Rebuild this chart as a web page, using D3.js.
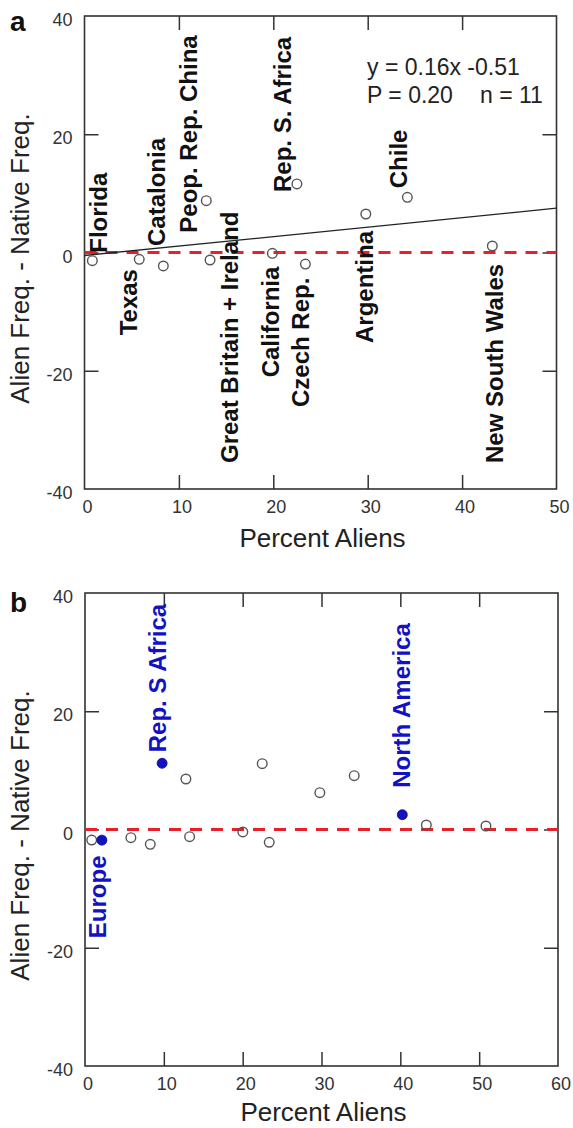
<!DOCTYPE html>
<html>
<head>
<meta charset="utf-8">
<script src="https://cdn.jsdelivr.net/npm/d3@7"></script>
<style>
  html, body { margin: 0; padding: 0; background: #fff; }
  text { font-family: "Liberation Sans", Arial, sans-serif; }
</style>
</head>
<body>
<div id="chart"></div>
<script>
// Panel a: regions
const regionsA = ['Florida', 'Texas', 'Catalonia', 'Peop. Rep. China', 'Great Britain + Ireland',
  'California', 'Rep. S. Africa', 'Czech Rep.', 'Argentina', 'Chile', 'New South Wales'];
const pctAliensA = [0.83, 5.8, 8.35, 12.9, 13.3, 19.9, 22.5, 23.4, 29.8, 34.2, 43.2];
const freqDiffA = [-1.39, -1.15, -2.28, 8.76, -1.27, -0.14, 11.59, -1.95, 6.51, 9.34, 1.1];
const fitSlope = 0.16;
const fitIntercept = -0.51;

// Panel b: regions + continents
const pctAliensB = [0.85, 5.82, 8.28, 12.8, 13.27, 20.02, 22.48, 23.37, 29.79, 34.15, 43.3, 50.86];
const freqDiffB = [-1.78, -1.39, -2.5, 8.54, -1.22, -0.42, 11.13, -2.16, 6.22, 9.1, 0.76, 0.59];
const continents = ['Europe', 'Rep. S Africa', 'North America'];
const pctAliensCont = [2.14, 9.78, 40.25];
const freqDiffCont = [-1.8, 11.2, 2.5];

// ticks
const xTicksA = [0, 10, 20, 30, 40, 50];
const xTicksB = [0, 10, 20, 30, 40, 50, 60];
const yTicks = [-40, -20, 0, 20, 40];

// label placement relative to each point, in pixels (baseline x, text start y)
const labelOffsetA = [[15, -8], [-2, 76], [2, -20], [-9, 32], [28, 203], [7, 124],
  [-6, 8], [4, 143], [7, 129], [0, -9], [11, 217]];
const labelOffsetCont = [[4, 98], [4, -11], [8, -27]];

const W = 573, H = 1128;
const svg = d3.select('#chart').append('svg').attr('width', W).attr('height', H)
  .style('background', '#fff');

const inkColor = '#333';
const blue = '#1212c4';

function drawPanel(cfg) {
  const x = d3.scaleLinear().domain(cfg.xDomain).range([cfg.left, cfg.right]);
  const y = d3.scaleLinear().domain([-40, 40]).range([cfg.bottom, cfg.top]);
  const g = svg.append('g');

  // inward ticks on all four sides
  const tickLen = 14;
  const innerX = cfg.xTicks.filter((t) => t > cfg.xDomain[0] && t < cfg.xDomain[1]);
  const innerY = yTicks.filter((t) => t > -40 && t < 40);
  g.append('g').attr('transform', `translate(0,${cfg.bottom})`)
    .call(d3.axisTop(x).tickValues(innerX).tickSize(tickLen).tickFormat(''))
    .call((s) => s.select('.domain').remove());
  g.append('g').attr('transform', `translate(0,${cfg.top})`)
    .call(d3.axisBottom(x).tickValues(innerX).tickSize(tickLen).tickFormat(''))
    .call((s) => s.select('.domain').remove());
  g.append('g').attr('transform', `translate(${cfg.left},0)`)
    .call(d3.axisRight(y).tickValues(innerY).tickSize(tickLen).tickFormat(''))
    .call((s) => s.select('.domain').remove());
  g.append('g').attr('transform', `translate(${cfg.right},0)`)
    .call(d3.axisLeft(y).tickValues(innerY).tickSize(tickLen).tickFormat(''))
    .call((s) => s.select('.domain').remove());
  g.selectAll('.tick line').attr('stroke', inkColor).attr('stroke-width', 1.5);

  // frame
  g.append('rect')
    .attr('x', cfg.left).attr('y', cfg.top)
    .attr('width', cfg.right - cfg.left).attr('height', cfg.bottom - cfg.top)
    .attr('fill', 'none').attr('stroke', inkColor).attr('stroke-width', 1.6);

  // tick labels
  g.selectAll('.ylab').data(yTicks).join('text')
    .attr('x', cfg.left - 12).attr('y', (d) => y(d) + 10)
    .attr('text-anchor', 'end').attr('font-size', 18).attr('fill', inkColor)
    .text((d) => d);
  g.selectAll('.xlab').data(cfg.xTicks).join('text')
    .attr('x', (d) => x(d) + 3).attr('y', cfg.bottom + 24)
    .attr('text-anchor', 'middle').attr('font-size', 18).attr('fill', inkColor)
    .text((d) => d);

  // axis titles
  g.append('text')
    .attr('transform', `translate(29,${(cfg.top + cfg.bottom) / 2 + 6}) rotate(-90)`)
    .attr('text-anchor', 'middle').attr('font-size', 26).attr('fill', '#222')
    .text('Alien Freq. - Native Freq.');
  g.append('text')
    .attr('x', (cfg.left + cfg.right) / 2 + 2).attr('y', cfg.bottom + cfg.titleGap)
    .attr('text-anchor', 'middle').attr('font-size', 26).attr('fill', '#222')
    .text('Percent Aliens');

  // panel letter
  g.append('text')
    .attr('x', 10).attr('y', cfg.top + cfg.letterDy)
    .attr('font-size', 28).attr('font-weight', 'bold').attr('fill', '#111')
    .text(cfg.letter);

  // zero reference
  g.append('line')
    .attr('x1', x(cfg.xDomain[0])).attr('x2', x(cfg.xDomain[1]))
    .attr('y1', y(0)).attr('y2', y(0))
    .attr('stroke', '#e8202a').attr('stroke-width', 3)
    .attr('stroke-dasharray', '12,9');

  return { g, x, y };
}

function openPoints(p, xs, ys) {
  p.g.selectAll(null).data(xs).join('circle')
    .attr('cx', (d) => p.x(d))
    .attr('cy', (d, i) => p.y(ys[i]))
    .attr('r', 4.8)
    .attr('fill', 'none').attr('stroke', '#555').attr('stroke-width', 1.4);
}

function vLabels(p, names, xs, ys, offsets, color) {
  p.g.selectAll(null).data(names).join('text')
    .attr('transform', (d, i) => {
      const tx = p.x(xs[i]) + offsets[i][0];
      const ty = p.y(ys[i]) + offsets[i][1];
      return `translate(${tx},${ty}) rotate(-90)`;
    })
    .attr('font-size', 24).attr('font-weight', 'bold').attr('fill', color)
    .text((d) => d);
}

// ---- panel a ----
const pa = drawPanel({
  letter: 'a', letterDy: 15, titleGap: 58, top: 16, bottom: 489, left: 84.5, right: 556.5,
  xDomain: [0, 50], xTicks: xTicksA,
});

pa.g.append('line')
  .attr('x1', pa.x(0)).attr('y1', pa.y(fitIntercept))
  .attr('x2', pa.x(50)).attr('y2', pa.y(fitSlope * 50 + fitIntercept))
  .attr('stroke', '#222').attr('stroke-width', 1.3);

openPoints(pa, pctAliensA, freqDiffA);
vLabels(pa, regionsA, pctAliensA, freqDiffA, labelOffsetA, '#111');

pa.g.append('text').attr('x', 367).attr('y', 75).attr('font-size', 23).attr('fill', '#222')
  .text('y = 0.16x -0.51');
pa.g.append('text').attr('x', 367).attr('y', 103).attr('font-size', 23).attr('fill', '#222')
  .text('P = 0.20');
pa.g.append('text').attr('x', 480).attr('y', 103).attr('font-size', 23).attr('fill', '#222')
  .text('n = 11');

// ---- panel b ----
const pb = drawPanel({
  letter: 'b', letterDy: 19, titleGap: 55, top: 593, bottom: 1066, left: 85, right: 558,
  xDomain: [0, 60], xTicks: xTicksB,
});

openPoints(pb, pctAliensB, freqDiffB);
pb.g.selectAll(null).data(pctAliensCont).join('circle')
  .attr('cx', (d) => pb.x(d))
  .attr('cy', (d, i) => pb.y(freqDiffCont[i]))
  .attr('r', 5)
  .attr('fill', blue).attr('stroke', '#0a0a90').attr('stroke-width', 0.8);
vLabels(pb, continents, pctAliensCont, freqDiffCont, labelOffsetCont, blue);
</script>
</body>
</html>
